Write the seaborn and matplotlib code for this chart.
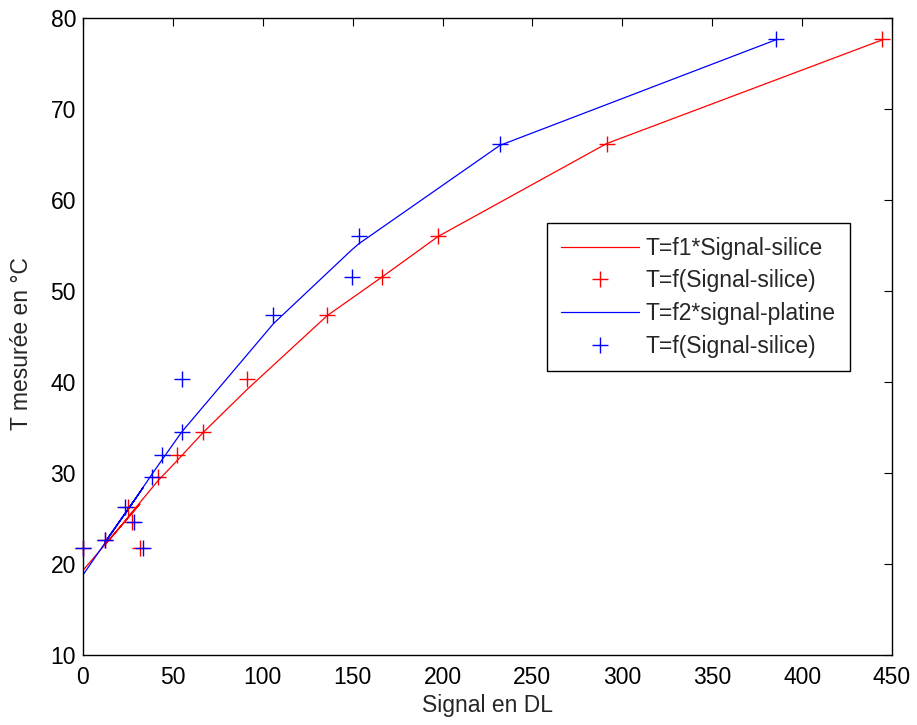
import matplotlib
matplotlib.use("Agg")
import matplotlib.pyplot as plt
from matplotlib.lines import Line2D
import seaborn as sns
import pandas as pd

# Measured temperatures (°C), in acquisition order
temperature = [21.7, 21.7, 22.6, 24.65, 26.3, 29.6, 32.0, 34.45, 40.35, 47.35, 51.5, 56.0, 66.2, 77.65]
# Signal (DL) – silice sensor
signal_silice = [0, 31.7, 12.2, 27.5, 25.2, 41.5, 52.1, 66.6, 91.4, 135.9, 166.1, 197.6, 291.3, 444.7]
# Fitted temperature for silice signal
fit_silice = [19.3, 26.6, 22.1, 25.7, 25.2, 29.1, 31.3, 34.4, 39.2, 47.3, 51.5, 56.0, 66.2, 77.6]
# Signal (DL) – platine sensor
signal_platine = [0, 33.5, 12.2, 28.5, 23.4, 38.5, 43.8, 54.9, 54.9, 105.9, 149.4, 153.5, 231.9, 385.4]
# Fitted temperature for platine signal
fit_platine = [18.8, 28.4, 22.4, 27.0, 25.5, 29.9, 31.4, 34.5, 34.5, 46.4, 54.5, 55.2, 66.0, 77.6]

labels = ["T=f1*Signal-silice", "T=f(Signal-silice)", "T=f2*signal-platine", "T=f(Signal-silice)"]
x_ticks = [0, 50, 100, 150, 200, 250, 300, 350, 400, 450]
y_ticks = [10, 20, 30, 40, 50, 60, 70, 80]

sns.set_style("white")
plt.rcParams['font.family'] = ['Liberation Sans', 'DejaVu Sans']

df_s = pd.DataFrame({"x": signal_silice, "T": temperature, "fit": fit_silice})
df_p = pd.DataFrame({"x": signal_platine, "T": temperature, "fit": fit_platine})

fig = plt.figure(figsize=(9.17, 7.25), dpi=100)
ax = fig.add_axes([0.0905, 0.0966, 0.8822, 0.8786])

red = "#ff0000"
blue = "#0000ff"
ms = 11.5
fs = 16.5

sns.lineplot(data=df_s, x="x", y="fit", sort=False, estimator=None, color=red, linewidth=0.9, ax=ax)
sns.scatterplot(data=df_s, x="x", y="T", marker="+", color=red, s=ms**2, linewidth=1.0, ax=ax, clip_on=False, zorder=3)
sns.lineplot(data=df_p, x="x", y="fit", sort=False, estimator=None, color=blue, linewidth=0.9, ax=ax)
sns.scatterplot(data=df_p, x="x", y="T", marker="+", color=blue, s=ms**2, linewidth=1.0, ax=ax, clip_on=False, zorder=3)

ax.set_xlim(0, 450)
ax.set_ylim(10, 80)
ax.set_xticks(x_ticks)
ax.set_yticks(y_ticks)
ax.tick_params(direction="in", length=6, width=0.8, top=True, right=True,
               labelsize=fs, colors="black")
ax.tick_params(axis="x", pad=8)
ax.tick_params(axis="y", pad=5)
for sp in ax.spines.values():
    sp.set_visible(True)
    sp.set_color("black")
    sp.set_linewidth(1.0)

ax.set_xlabel("Signal en DL", fontsize=fs)
ax.set_ylabel("T mesurée en °C", fontsize=fs)
ax.xaxis.set_label_coords(0.5, -0.062)
ax.yaxis.set_label_coords(-0.062, 0.489)

handles = [
    Line2D([], [], color=red, linewidth=0.9),
    Line2D([], [], color=red, marker="+", linestyle="none", markersize=ms, markeredgewidth=1.0),
    Line2D([], [], color=blue, linewidth=0.9),
    Line2D([], [], color=blue, marker="+", linestyle="none", markersize=ms, markeredgewidth=1.0),
]
leg = ax.legend(handles, labels, loc="upper left", bbox_to_anchor=(0.574, 0.678),
                fontsize=fs, frameon=True, fancybox=False, framealpha=1,
                edgecolor="black", handlelength=3.4, handletextpad=0.3,
                labelspacing=0.42, borderpad=0.6, borderaxespad=0)
leg.get_frame().set_linewidth(1.0)

fig.savefig("out.png", dpi=100)
